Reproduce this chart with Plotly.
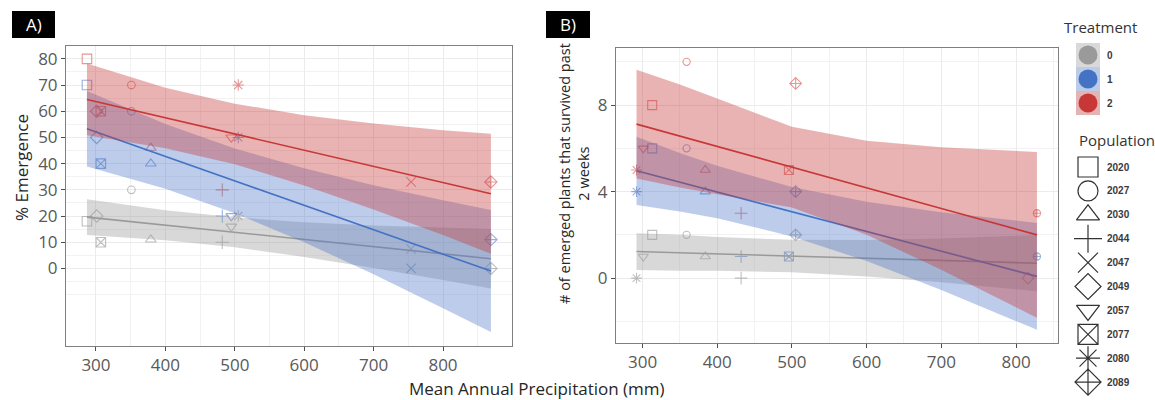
import plotly.graph_objects as go

W, H = 1155, 400

# ---------------- data ----------------
populations = ["2020", "2027", "2030", "2044", "2047", "2049", "2057", "2077", "2080", "2089"]
pop_symbols = ["square", "circle", "triangle-up", "cross-thin", "x-thin",
               "diamond", "triangle-down", "square-x", "asterisk", "diamond-cross"]
treatments = ["0", "1", "2"]

# Panel A: % emergence
a_symbols = pop_symbols
a_precip = [287, 351, 379, 482, 754, 301, 495, 307, 505, 869]
a_t0 = [18, 30, 11, 10, 7.5, 20, 16, 10, 20, 0]
a_t1 = [70, 60, 40, 20, 0, 50, 20, 40, 50, 11]
a_t2 = [80, 70, 46, 30, 33, 60, 50, 60, 70, 33]

# Panel A: fitted lines with confidence bands
a_fit_x = [287, 400, 500, 600, 700, 800, 869]
a_fit_t0 = [19.6, 16.5, 13.8, 11.0, 8.3, 5.6, 3.7]
a_lo_t0 = [12.8, 10.8, 8.1, 4.4, 0.2, -4.4, -7.7]
a_hi_t0 = [26.4, 22.2, 19.5, 17.6, 16.4, 15.6, 15.1]
a_fit_t1 = [53.3, 42.8, 33.4, 24.1, 14.8, 5.4, -1.0]
a_lo_t1 = [38.9, 30.4, 21.1, 10.0, -2.2, -15.2, -24.3]
a_hi_t1 = [67.7, 55.1, 45.8, 38.2, 31.8, 26.0, 22.3]
a_fit_t2 = [64.5, 57.5, 51.3, 45.1, 38.9, 32.8, 28.5]
a_lo_t2 = [50.8, 45.9, 39.8, 31.7, 22.5, 12.8, 5.6]
a_hi_t2 = [78.2, 69.0, 62.9, 58.5, 55.3, 52.7, 51.4]

# Panel B: emerged plants surviving past 2 weeks
b_symbols = ["square", "circle", "triangle-up", "cross-thin", "diamond",
             "triangle-down", "square-x", "asterisk", "diamond-cross", "circle-cross"]
b_precip = [313, 359, 384, 432, 816, 301, 496, 292, 505, 828]
b_t0 = [2, 2, 1, 0, None, 1, None, 0, 2, None]
b_t1 = [6, 6, 4, 1, None, None, 1, 4, 4, 1]
b_t2 = [8, 10, 5, 3, 0, 6, 5, 5, 9, 3]

b_fit_x = [292, 350, 400, 500, 600, 700, 828]
b_fit_t0 = [1.23, 1.17, 1.12, 1.02, 0.92, 0.82, 0.69]
b_lo_t0 = [0.38, 0.34, 0.34, 0.27, 0.08, -0.19, -0.61]
b_hi_t0 = [2.08, 2.00, 1.90, 1.77, 1.76, 1.83, 1.99]
b_fit_t1 = [4.96, 4.43, 3.98, 3.07, 2.16, 1.25, 0.08]
b_lo_t1 = [3.38, 3.08, 2.77, 1.93, 0.79, -0.55, -2.39]
b_hi_t1 = [6.54, 5.78, 5.19, 4.21, 3.53, 3.05, 2.55]
b_fit_t2 = [7.12, 6.57, 6.09, 5.13, 4.18, 3.22, 2.00]
b_lo_t2 = [4.61, 4.19, 3.88, 3.26, 2.01, 0.39, -1.83]
b_hi_t2 = [9.63, 8.95, 8.30, 7.00, 6.35, 6.05, 5.83]

# ---------------- styling ----------------
line_col = {"0": "#9a9a9a", "1": "#4472C4", "2": "#C83737"}
point_col = {"0": "rgba(150,150,150,0.85)", "1": "rgba(68,114,196,0.8)", "2": "rgba(205,55,55,0.75)"}
band_col = {"0": "rgba(153,153,153,0.38)", "1": "rgba(68,114,196,0.36)", "2": "rgba(200,55,55,0.38)"}
key_bg = {"0": "#d9d9d9", "1": "#bccbe6", "2": "#e5b3b3"}
size_scale = {"circle": 0.8, "circle-cross": 0.8}

FONT = "Open Sans, Noto Sans, sans-serif"
TICK_FONT = dict(family=FONT, size=17, color="#595959")


def px_x(p):
    return p / W


def px_y(p):
    return 1 - p / H


fig = go.Figure()


def add_points(xax, yax, precip, values, symbols, tr, base):
    xs, ys, syms, sizes = [], [], [], []
    for x, v, s in zip(precip, values, symbols):
        if v is None:
            continue
        xs.append(x)
        ys.append(v)
        syms.append(s + "-open")
        sizes.append(base * size_scale.get(s, 1.0))
    fig.add_trace(go.Scatter(
        x=xs, y=ys, mode="markers", xaxis=xax, yaxis=yax, showlegend=False,
        marker=dict(symbol=syms, size=sizes, color=point_col[tr],
                    line=dict(width=1.1, color=point_col[tr])),
        hoverinfo="skip"))


def add_smooth(xax, yax, fx, fit, lo, hi, tr):
    fig.add_trace(go.Scatter(
        x=fx + fx[::-1], y=hi + lo[::-1], fill="toself", fillcolor=band_col[tr],
        mode="none", xaxis=xax, yaxis=yax, showlegend=False, hoverinfo="skip"))
    fig.add_trace(go.Scatter(
        x=fx, y=fit, mode="lines", line=dict(color=line_col[tr], width=1.6),
        xaxis=xax, yaxis=yax, showlegend=False, hoverinfo="skip"))


# Panel A
for tr, vals in zip(treatments, [a_t0, a_t1, a_t2]):
    add_points("x", "y", a_precip, vals, a_symbols, tr, 9.5)
for tr, f, lo, hi in zip(treatments, [a_fit_t0, a_fit_t1, a_fit_t2],
                         [a_lo_t0, a_lo_t1, a_lo_t2], [a_hi_t0, a_hi_t1, a_hi_t2]):
    add_smooth("x", "y", a_fit_x, f, lo, hi, tr)

# Panel B
for tr, vals in zip(treatments, [b_t0, b_t1, b_t2]):
    add_points("x2", "y2", b_precip, vals, b_symbols, tr, 9)
for tr, f, lo, hi in zip(treatments, [b_fit_t0, b_fit_t1, b_fit_t2],
                         [b_lo_t0, b_lo_t1, b_lo_t2], [b_hi_t0, b_hi_t1, b_hi_t2]):
    add_smooth("x2", "y2", b_fit_x, f, lo, hi, tr)

# ---------------- legend (drawn on a pixel-scaled helper axis) ----------------
treat_y0, treat_step = 55, 24
pop_y0, pop_step = 167, 23.9
key_x = 1088
legend_text = dict(family="Arial", size=10, color="#3a3a3a")
for i, tr in enumerate(treatments):
    yc = treat_y0 + i * treat_step
    fig.add_shape(type="rect", xref="x3", yref="y3",
                  x0=key_x - 12, x1=key_x + 12, y0=yc - 12, y1=yc + 12,
                  fillcolor=key_bg[tr], line=dict(width=0), layer="below")
    fig.add_annotation(x=key_x + 17, y=yc, xref="x3", yref="y3",
                       text="<b>%s</b>" % tr, showarrow=False,
                       xanchor="left", yanchor="middle", font=legend_text)
fig.add_trace(go.Scatter(
    x=[key_x] * 3, y=[treat_y0 + i * treat_step for i in range(3)],
    mode="markers",
    marker=dict(symbol="circle", size=19, color=[line_col[t] for t in treatments]),
    xaxis="x3", yaxis="y3", showlegend=False, hoverinfo="skip"))
fig.add_trace(go.Scatter(
    x=[key_x] * len(populations),
    y=[pop_y0 + i * pop_step for i in range(len(populations))],
    mode="markers", xaxis="x3", yaxis="y3", showlegend=False, hoverinfo="skip",
    marker=dict(symbol=[s + "-open" for s in pop_symbols], size=20, color="#333333",
                line=dict(width=1.2, color="#333333"))))
for i, p in enumerate(populations):
    fig.add_annotation(x=key_x + 17, y=pop_y0 + i * pop_step, xref="x3", yref="y3",
                       text="<b>%s</b>" % p, showarrow=False,
                       xanchor="left", yanchor="middle", font=legend_text)
fig.add_annotation(x=1062, y=27, xref="x3", yref="y3", text="Treatment", showarrow=False,
                   xanchor="left", yanchor="middle",
                   font=dict(family=FONT, size=15, color="#333333"))
fig.add_annotation(x=1077, y=140, xref="x3", yref="y3", text="Population", showarrow=False,
                   xanchor="left", yanchor="middle",
                   font=dict(family=FONT, size=15, color="#333333"))

# ---------------- axes ----------------
grid = dict(showgrid=True, gridcolor="#ebebeb", gridwidth=1, zeroline=False,
            showline=True, linecolor="#7f7f7f", linewidth=1, mirror=True,
            ticks="outside", ticklen=4, tickcolor="#4d4d4d", tickfont=TICK_FONT)

fig.update_layout(
    width=W, height=H, margin=dict(l=0, r=0, t=0, b=0),
    paper_bgcolor="white", plot_bgcolor="white",
    xaxis=dict(domain=[px_x(66), px_x(512)], range=[256.8, 899.4], anchor="y",
               tickvals=[300, 400, 500, 600, 700, 800],
               minor=dict(tickvals=[350, 450, 550, 650, 750, 850], showgrid=True,
                          gridcolor="#f2f2f2", ticks=""), **grid),
    yaxis=dict(domain=[px_y(346), px_y(46)], range=[-29.6, 84.9], anchor="x",
               tickvals=list(range(0, 90, 10)),
               minor=dict(tickvals=[-10, -5] + list(range(5, 85, 10)), showgrid=True,
                          gridcolor="#f2f2f2", ticks=""), **grid),
    xaxis2=dict(domain=[px_x(616), px_x(1058)], range=[264.5, 856.2], anchor="y2",
                tickvals=[300, 400, 500, 600, 700, 800],
                minor=dict(tickvals=[350, 450, 550, 650, 750, 850], showgrid=True,
                           gridcolor="#f2f2f2", ticks=""), **grid),
    yaxis2=dict(domain=[px_y(343), px_y(48)], range=[-3.0, 10.64], anchor="x2",
                tickvals=[0, 4, 8],
                minor=dict(tickvals=[-2, 2, 6, 10], showgrid=True,
                           gridcolor="#f2f2f2", ticks=""), **grid),
    xaxis3=dict(domain=[px_x(1058), 1], range=[1058, 1155], visible=False, fixedrange=True),
    yaxis3=dict(domain=[0, 1], range=[400, 0], visible=False, fixedrange=True, anchor="x3"),
)

# ---------------- titles and panel tags ----------------
title_font = dict(family=FONT, size=17, color="#262626")
centered = dict(xref="paper", yref="paper", showarrow=False, xanchor="center", yanchor="middle")
fig.add_annotation(x=px_x(537), y=px_y(388), text="Mean Annual Precipitation (mm)",
                   font=title_font, **centered)
fig.add_annotation(x=px_x(22), y=px_y(168), textangle=-90, text="% Emergence",
                   font=title_font, **centered)
fig.add_annotation(x=px_x(574), y=px_y(174), textangle=-90,
                   text="# of emerged plants that survived past<br>2 weeks",
                   font=dict(family=FONT, size=14.5, color="#262626"), **centered)

for tag, x0, x1 in [("A)", 12, 55), ("B)", 546, 590)]:
    fig.add_shape(type="rect", xref="paper", yref="paper",
                  x0=px_x(x0), x1=px_x(x1), y0=px_y(38), y1=px_y(11),
                  fillcolor="black", line=dict(width=0))
    fig.add_annotation(x=px_x((x0 + x1) / 2), y=px_y(24.5), text=tag,
                       font=dict(family=FONT, size=17, color="white"), **centered)

fig.write_html("out.html")
